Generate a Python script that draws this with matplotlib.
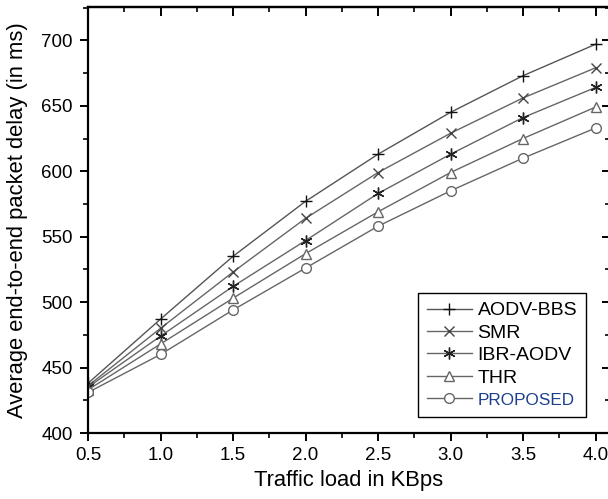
import matplotlib
matplotlib.use("Agg")
import matplotlib.pyplot as plt
from matplotlib.ticker import MultipleLocator

plt.rcParams["font.family"] = ["Liberation Sans", "DejaVu Sans"]

# data
traffic_load = [0.5, 1.0, 1.5, 2.0, 2.5, 3.0, 3.5, 4.0]
aodv_bbs = [438, 487, 535, 577, 613, 645, 673, 697]
smr = [436, 480, 523, 564, 599, 629, 656, 679]
ibr_aodv = [435, 474, 512, 547, 583, 613, 641, 664]
thr = [433, 468, 503, 537, 569, 599, 625, 649]
proposed = [431, 460, 494, 526, 558, 585, 610, 633]

series_names = ["AODV-BBS", "SMR", "IBR-AODV", "THR", "PROPOSED"]
series_values = [aodv_bbs, smr, ibr_aodv, thr, proposed]

styles = [
    dict(marker="+", markersize=9, color="#555555", mec="#111111", mew=1.0),
    dict(marker="x", markersize=7, color="#666666", mec="#444444", mew=1.0),
    dict(marker=(6, 2, 0), markersize=8.5, color="#666666", mec="#222222", mew=1.0),
    dict(marker="^", markersize=7, color="#666666", mec="#666666", mfc="white", mew=1.0),
    dict(marker="o", markersize=7, color="#666666", mec="#666666", mfc="white", mew=1.0),
]

fig = plt.figure(figsize=(6.08, 4.99), dpi=100)
ax = fig.add_axes([88 / 608, 66 / 499, 522 / 608, 426 / 499])

for name, vals, st in zip(series_names, series_values, styles):
    ax.plot(traffic_load, vals, linewidth=1.0, label=name, **st)

ax.set_xlim(0.5, 4.1)
ax.set_ylim(400, 725.5)
ax.xaxis.set_major_locator(MultipleLocator(0.5))
ax.xaxis.set_minor_locator(MultipleLocator(0.25))
ax.yaxis.set_major_locator(MultipleLocator(50))
ax.yaxis.set_minor_locator(MultipleLocator(25))
ax.xaxis.set_major_formatter(plt.FormatStrFormatter("%.1f"))

for sp in ax.spines.values():
    sp.set_linewidth(1.6)

ax.tick_params(which="major", direction="out", length=6, width=1.4, labelsize=13.5)
ax.tick_params(which="minor", direction="out", length=3.5, width=1.2)
ax.tick_params(axis="x", which="major", pad=4)
ax.tick_params(axis="y", which="major", pad=5)

# mirrored ticks pointing inward on top and right
top = ax.secondary_xaxis("top")
top.xaxis.set_major_locator(MultipleLocator(0.5))
top.xaxis.set_minor_locator(MultipleLocator(0.25))
top.tick_params(which="major", direction="in", length=6.5, width=1.4, labeltop=False)
top.tick_params(which="minor", direction="in", length=3.5, width=1.2)
top.spines["top"].set_linewidth(1.6)

right = ax.secondary_yaxis("right")
right.yaxis.set_major_locator(MultipleLocator(50))
right.yaxis.set_minor_locator(MultipleLocator(25))
right.tick_params(which="major", direction="in", length=6, width=1.4, labelright=False)
right.tick_params(which="minor", direction="in", length=3.5, width=1.2)

ax.set_xlabel("Traffic load in KBps", fontsize=15.8)
ax.xaxis.set_label_coords(0.5, -0.088)
ax.set_ylabel("Average end-to-end packet delay (in ms)", fontsize=15.8)
ax.yaxis.set_label_coords(-0.115, 0.5)

leg = ax.legend(loc="lower right", bbox_to_anchor=(0.954, 0.0376), borderaxespad=0,
                fontsize=14, frameon=True, fancybox=False, framealpha=1,
                edgecolor="black", numpoints=1, handlelength=2.3,
                labelspacing=0.25, handletextpad=0.3, borderpad=0.45)
leg.get_frame().set_linewidth(1.0)
prop_text = leg.get_texts()[-1]
prop_text.set_color("#1c3f8c")
prop_text.set_fontsize(12.3)

fig.savefig("out.png", dpi=100)
